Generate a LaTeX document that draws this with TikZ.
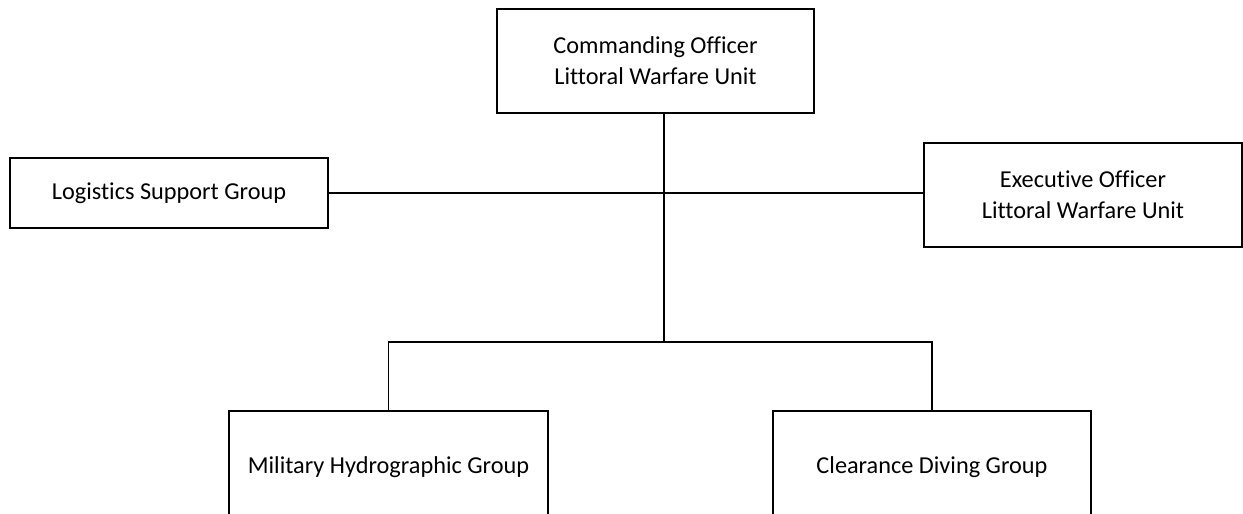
\documentclass[tikz,border=0pt]{standalone}
\usepackage{fontspec}
\setmainfont{Carlito}[Ligatures=NoCommon]
\begin{document}
\begin{tikzpicture}[x=1pt,y=-1pt,
  unit/.style={draw=black,line width=1.6pt,fill=white,align=center,
    inner sep=0pt,font=\fontsize{24.3}{31}\selectfont},
  link/.style={draw=black,line width=1.6pt}]
\useasboundingbox (0,0) rectangle (1243,514);
\clip (0,0) rectangle (1243,514);
% organisation units
\node[unit,minimum width=317pt,minimum height=104pt] (co) at (655.5,61)
  {Commanding Officer\\Littoral Warfare Unit};
\node[unit,minimum width=318pt,minimum height=70pt] (lsg) at (169,193)
  {Logistics Support Group};
\node[unit,minimum width=318pt,minimum height=104pt] (xo) at (1083,195)
  {Executive Officer\\Littoral Warfare Unit};
\node[unit,minimum width=319pt,minimum height=112pt] (mhg) at (388.5,467)
  {Military Hydrographic Group};
\node[unit,minimum width=318pt,minimum height=112pt] (cdg) at (932,467)
  {Clearance Diving Group};
% junction points of the reporting lines
\coordinate (trunk) at (664,193);
\coordinate (split) at (664,342);
% reporting lines
\draw[link] (co.south -| trunk) -- (split);
\draw[link] (lsg.east) -- (lsg.east -| xo.west);
\draw[link] (split) -| (mhg.north);
\draw[link] (split) -| (cdg.north);
\end{tikzpicture}
\end{document}
